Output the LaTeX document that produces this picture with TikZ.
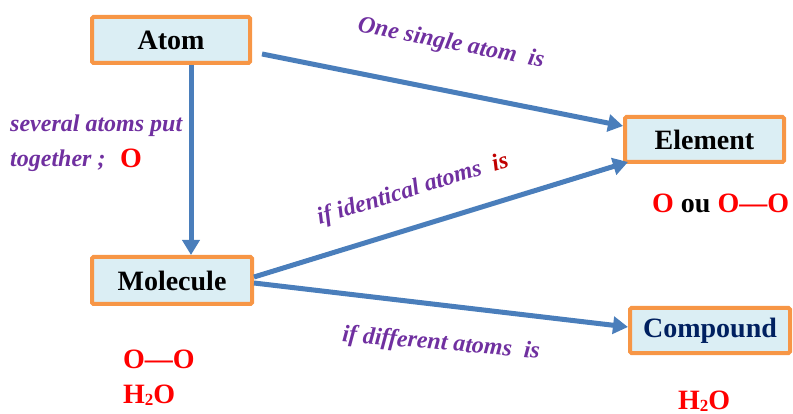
\documentclass[tikz,border=0pt]{standalone}
\usepackage{fontspec}
\setmainfont{Liberation Serif}
\usetikzlibrary{arrows.meta}
\definecolor{boxfill}{HTML}{DBEEF4}
\definecolor{boxline}{HTML}{F79646}
\definecolor{arrblue}{HTML}{4A7EBB}
\definecolor{lblpurple}{HTML}{7030A0}
\definecolor{chemred}{HTML}{FF0000}
\definecolor{isred}{HTML}{C00000}
\definecolor{navyblue}{HTML}{002060}
\newcommand{\subtwo}{\raisebox{-0.2ex}{\fontsize{17}{17}\selectfont 2}}
\begin{document}
\begin{tikzpicture}[x=1pt,y=-1pt,
 box/.style={draw=boxline, line width=4pt, fill=boxfill, rounded corners=1.5pt, inner sep=0pt, font=\fontsize{28}{32}\selectfont\bfseries},
 arr/.style={draw=arrblue, line width=5pt, -{Triangle[width=17pt,length=15pt]}},
 lbl/.style={text=lblpurple, font=\fontsize{24}{28}\selectfont\bfseries\itshape, inner sep=0pt},
 chem/.style={text=chemred, font=\fontsize{28}{32}\selectfont\bfseries, inner sep=0pt}]
\useasboundingbox (0,0) rectangle (793,414);
% boxes
\node[box, minimum width=158pt, minimum height=46pt] (atom) at (171,40) {Atom};
\node[box, minimum width=159pt, minimum height=45pt] (element) at (704.5,139.5) {Element};
\node[box, minimum width=160pt, minimum height=47pt] (molecule) at (172,280.5) {Molecule};
\node[box, minimum width=160pt, minimum height=45pt, text=navyblue] (compound) at (710,330.5) {Compound};
% connectors
\coordinate (atomout) at ([shift={(10pt,-14pt)}]atom.east);
\draw[arr] (atomout) -- ([yshift=13.5pt]element.west);
\draw[arr] ([xshift=20pt]atom.south) -- ([xshift=20pt]atom.south |- molecule.north);
\draw[arr] ([yshift=3.5pt]molecule.east) -- ([shift={(5pt,2pt)}]element.south west);
\draw[arr] ([yshift=-2.5pt]molecule.east) -- ([yshift=3.5pt]compound.west);
% labels
\node[lbl, rotate=-11] (lone) at (451,44) {One single atom\ \ is};
\node[lbl, rotate=17] (lident) at (413,190) {if identical atoms\ \ {\color{isred}is}};
\node[lbl, rotate=-5] (ldiff) at (441,344) {if different atoms\ \ is};
\node[lbl, anchor=base west] (lsev1) at (10,132) {several atoms put};
\node[lbl, anchor=base west] (lsev2) at (10,167) {together ;};
\node[chem, anchor=base west] (oatom) at (120,168) {O};
% examples
\node[chem, anchor=base west] (elex) at (652,213) {O {\color{black}ou} O—O};
\node[chem, anchor=base west] (molex1) at (123,368) {O—O};
\node[chem, anchor=base west] (molex2) at (123,403) {H\subtwo O};
\node[chem, anchor=base west] (compex) at (678,409) {H\subtwo O};
\end{tikzpicture}
\end{document}
